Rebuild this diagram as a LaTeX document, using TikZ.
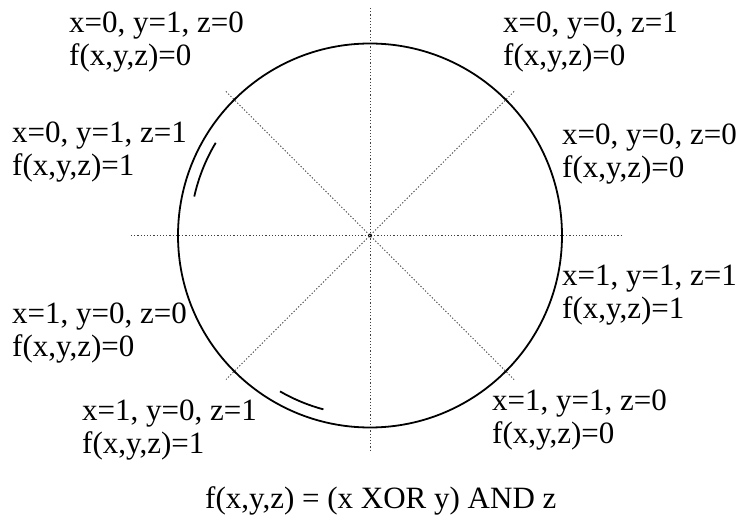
\documentclass[tikz,border=0pt]{standalone}
\usepackage{fontspec}
\setmainfont{Liberation Serif}
\usetikzlibrary{calc}
\begin{document}
\begin{tikzpicture}[x=1pt,y=-1pt,
  lbl/.style={anchor=base west,inner sep=0pt,font=\fontsize{31}{33}\selectfont,align=left},
  guide/.style={line width=1pt,dash pattern=on 1.2pt off 2pt,black!75},
  ring/.style={line width=1.8pt}]
\useasboundingbox (0,0) rectangle (739,521);
\coordinate (C) at (370,235.5);
\coordinate (L) at (131,235.5);
\coordinate (R) at (622,235.5);
\coordinate (T) at (370,8);
\coordinate (B) at (370,450);
\coordinate (UL) at (226,91.5);
\coordinate (UR) at (514,91.5);
\coordinate (DL) at (226,379.5);
\coordinate (DR) at (514,379.5);
\draw[guide] (L) -- (R);
\draw[guide] (T) -- (B);
\draw[guide] (UL) -- (DR);
\draw[guide] (UR) -- (DL);
\draw[line width=0.6pt] (C) circle (1.6);
\draw[ring] (C) circle (192);
% inner arcs (angles measured with y downwards -> negate)
\draw[ring] ($(C)+(-149:180)$) arc (-149:-167.5:180);
\draw[ring] ($(C)+(-240:180)$) arc (-240:-255:180);
\node[lbl] (n1) at (69,66) {x=0, y=1, z=0\\f(x,y,z)=0};
\node[lbl] (n2) at (503,66) {x=0, y=0, z=1\\f(x,y,z)=0};
\node[lbl] (n3) at (12,176) {x=0, y=1, z=1\\f(x,y,z)=1};
\node[lbl] (n4) at (562,178) {x=0, y=0, z=0\\f(x,y,z)=0};
\node[lbl] (n5) at (562,319) {x=1, y=1, z=1\\f(x,y,z)=1};
\node[lbl] (n6) at (12,356) {x=1, y=0, z=0\\f(x,y,z)=0};
\node[lbl] (n7) at (82,453) {x=1, y=0, z=1\\f(x,y,z)=1};
\node[lbl] (n8) at (492,443) {x=1, y=1, z=0\\f(x,y,z)=0};
\node[lbl] (f) at (205,508) {f(x,y,z) = (x XOR y) AND z};
\end{tikzpicture}
\end{document}
